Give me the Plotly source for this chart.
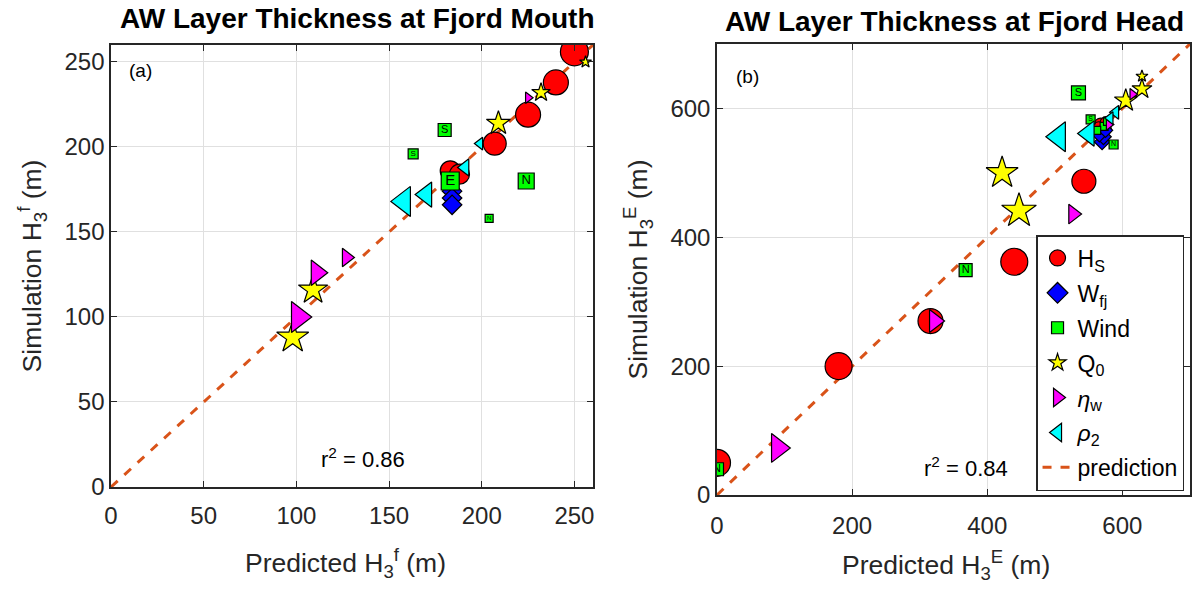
import plotly.graph_objects as go

# ---------------- Panel (a): Fjord mouth ----------------
a_hs_x = [183, 188, 207, 225, 240, 250]
a_hs_y = [186, 184, 202, 219, 238, 256]
a_wfj_x = [184, 184, 184]
a_wfj_y = [174, 170, 166]
a_wind_x = [180, 163, 183, 224, 204]
a_wind_y = [210, 196, 180, 180, 158]
a_wind_lbl = ["S", "S", "E", "N", "N"]
a_q0_x = [98, 109, 209, 232, 256]
a_q0_y = [88, 116, 214, 232, 250]
a_eta_x = [101, 111, 127, 225]
a_eta_y = [100, 126, 135, 229]
a_rho_x = [158, 170, 191, 199]
a_rho_y = [168, 172, 188, 202]
a_pred = [0, 260]
a_r2 = "0.86"

# ---------------- Panel (b): Fjord head ----------------
b_hs_x = [0, 180, 316, 440, 543, 568, 574, 576, 565, 571]
b_hs_y = [50, 200, 270, 362, 487, 575, 568, 578, 570, 562]
b_wfj_x = [570, 572, 566, 575]
b_wfj_y = [548, 556, 560, 566]
b_wind_x = [0, 368, 535, 553, 587, 573, 562, 578]
b_wind_y = [40, 349, 624, 583, 544, 572, 566, 580]
b_wind_lbl = ["N", "N", "S", "S", "N", "", "", ""]
b_q0_x = [422, 447, 605, 629, 629]
b_q0_y = [500, 441, 612, 630, 650]
b_eta_x = [90, 322, 527, 615, 580]
b_eta_y = [73, 270, 436, 622, 575]
b_rho_x = [506, 550, 590, 582]
b_rho_y = [556, 561, 594, 585]
b_pred = [0, 700]
b_r2 = "0.84"

# marker sizes (style)
a_hs_s = [20, 20, 23, 25, 25, 28]
a_wfj_s = [15, 15, 15]
a_wind_s = [13, 10, 18, 16, 8]
a_q0_s = [24, 22, 18, 14, 9]
a_eta_s = [27, 22, 16, 10]
a_rho_s = [26, 22, 15, 11]
b_hs_s = [27, 27, 25, 27, 24, 13, 13, 12, 12, 12]
b_wfj_s = [12, 12, 12, 11]
b_wind_s = [13, 13, 14, 9, 9, 8, 8, 8]
b_q0_s = [24, 26, 17, 15, 9]
b_eta_s = [25, 20, 17, 10, 10]
b_rho_s = [26, 22, 12, 11]

FONT = "Liberation Sans, Arial, Helvetica, sans-serif"
INK = "#262626"
ORANGE = "#D95319"
W, H = 1194, 589
LABEL_SIZE = 26.5

fig = go.Figure()


def add_panel(xa, ya, hs, wfj, wind, q0, eta, rho, pred):
    def sc(x, y, s, sym, col, lw=1.2):
        fig.add_trace(go.Scatter(
            x=x, y=y, mode="markers", xaxis=xa, yaxis=ya, showlegend=False,
            marker=dict(symbol=sym, size=s, color=col, opacity=1,
                        line=dict(color="black", width=lw)),
            hoverinfo="x+y"))
    fig.add_trace(go.Scatter(x=pred, y=pred, mode="lines", xaxis=xa, yaxis=ya,
                             showlegend=False,
                             line=dict(color=ORANGE, width=3, dash="dash")))
    sc(hs[0], hs[1], hs[2], "circle", "#FF0000")
    sc(wfj[0], wfj[1], wfj[2], "diamond", "#0000FF")
    fig.add_trace(go.Scatter(
        x=wind[0], y=wind[1], mode="markers+text", text=wind[3],
        textposition="middle center",
        textfont=dict(family=FONT, color="black",
                      size=[max(6, int(s * 0.85)) for s in wind[2]]),
        xaxis=xa, yaxis=ya, showlegend=False,
        marker=dict(symbol="square", size=wind[2], color="#00FF00", opacity=1,
                    line=dict(color="black", width=1.2))))
    sc(q0[0], q0[1], q0[2], "star", "#FFFF00")
    sc(eta[0], eta[1], eta[2], "triangle-right", "#FF00FF")
    sc(rho[0], rho[1], rho[2], "triangle-left", "#00FFFF")


add_panel("x", "y", (a_hs_x, a_hs_y, a_hs_s), (a_wfj_x, a_wfj_y, a_wfj_s),
          (a_wind_x, a_wind_y, a_wind_s, a_wind_lbl), (a_q0_x, a_q0_y, a_q0_s),
          (a_eta_x, a_eta_y, a_eta_s), (a_rho_x, a_rho_y, a_rho_s), a_pred)
add_panel("x2", "y2", (b_hs_x, b_hs_y, b_hs_s), (b_wfj_x, b_wfj_y, b_wfj_s),
          (b_wind_x, b_wind_y, b_wind_s, b_wind_lbl), (b_q0_x, b_q0_y, b_q0_s),
          (b_eta_x, b_eta_y, b_eta_s), (b_rho_x, b_rho_y, b_rho_s), b_pred)

# legend-only entries (panel b)
leg = [("H<sub>S</sub>", "circle", "#FF0000", 17),
       ("W<sub>fj</sub>", "diamond", "#0000FF", 16),
       ("Wind", "square", "#00FF00", 12),
       ("Q<sub>0</sub>", "star", "#FFFF00", 13),
       ("<i>η</i><sub>w</sub>", "triangle-right", "#FF00FF", 17),
       ("<i>ρ</i><sub>2</sub>", "triangle-left", "#00FFFF", 17)]
for i, (name, sym, col, s) in enumerate(leg):
    fig.add_trace(go.Scatter(x=[None], y=[None], mode="markers", name=name,
                             xaxis="x2", yaxis="y2", legendgroup=f"g{i}",
                             marker=dict(symbol=sym, size=s, color=col, opacity=1,
                                         line=dict(color="black", width=1.2))))
fig.add_trace(go.Scatter(x=[None], y=[None], mode="lines", name="prediction",
                         xaxis="x2", yaxis="y2", legendgroup="g9",
                         line=dict(color=ORANGE, width=3, dash="dash")))

ax_common = dict(showgrid=True, gridcolor="#E0E0E0", gridwidth=1.3, automargin=False,
                 zeroline=False, showline=True, linecolor=INK, linewidth=1.5,
                 mirror="ticks", ticks="inside", ticklen=6, tickcolor=INK,
                 tickfont=dict(family=FONT, size=24, color=INK),
                 title_font=dict(family=FONT, size=LABEL_SIZE, color=INK))


def px_y(p):
    return 1 - p / H


fig.update_layout(
    width=W, height=H, margin=dict(l=0, r=0, t=0, b=0, autoexpand=False),
    paper_bgcolor="white", plot_bgcolor="white",
    font=dict(family=FONT, color=INK),
    xaxis=dict(domain=[0.0930, 0.4966], range=[0, 260], tickvals=[0, 50, 100, 150, 200, 250],
               anchor="y", ticklabelstandoff=6, **ax_common),
    yaxis=dict(domain=[0.1732, 0.9236], range=[0, 260], tickvals=[0, 50, 100, 150, 200, 250],
               anchor="x", title=dict(text="Simulation H<sub>3</sub><sup>f</sup> (m)"),
               **ax_common),
    xaxis2=dict(domain=[0.6005, 0.9966], range=[0, 700], tickvals=[0, 200, 400, 600],
                anchor="y2", ticklabelstandoff=8, **ax_common),
    yaxis2=dict(domain=[0.1596, 0.9253], range=[0, 700], tickvals=[0, 200, 400, 600],
                anchor="x2", title=dict(text="Simulation H<sub>3</sub><sup>E</sup> (m)"),
                **ax_common),
    legend=dict(x=0.8677, y=0.601, xanchor="left", yanchor="top",
                bgcolor="white", bordercolor=INK, borderwidth=1.5,
                font=dict(family=FONT, size=23, color="black"),
                itemsizing="trace", traceorder="grouped", tracegroupgap=2),
    annotations=[
        dict(text="<b>AW Layer Thickness at Fjord Mouth</b>", x=0.2995, y=px_y(19),
             xref="paper", yref="paper", xanchor="center", yanchor="middle", showarrow=False,
             font=dict(family=FONT, size=28, color="black")),
        dict(text="<b>AW Layer Thickness at Fjord Head</b>", x=0.799, y=px_y(21),
             xref="paper", yref="paper", xanchor="center", yanchor="middle", showarrow=False,
             font=dict(family=FONT, size=28, color="black")),
        dict(text="Predicted H<sub>3</sub><sup>f</sup> (m)", x=0.289, y=px_y(542),
             xref="paper", yref="paper", xanchor="center", yanchor="top", showarrow=False,
             font=dict(family=FONT, size=LABEL_SIZE, color=INK)),
        dict(text="Predicted H<sub>3</sub><sup>E</sup> (m)", x=0.7927, y=px_y(544),
             xref="paper", yref="paper", xanchor="center", yanchor="top", showarrow=False,
             font=dict(family=FONT, size=LABEL_SIZE, color=INK)),
        dict(text="(a)", x=16, y=245, xref="x", yref="y", showarrow=False,
             font=dict(family=FONT, size=19, color="black")),
        dict(text="(b)", x=45, y=650, xref="x2", yref="y2", showarrow=False,
             font=dict(family=FONT, size=19, color="black")),
        dict(text="r<sup>2</sup> = " + a_r2, x=136, y=17, xref="x", yref="y", showarrow=False,
             font=dict(family=FONT, size=22, color="black")),
        dict(text="r<sup>2</sup> = " + b_r2, x=369, y=43, xref="x2", yref="y2", showarrow=False,
             font=dict(family=FONT, size=22, color="black")),
    ],
)

fig.write_html("out.html", config={"displayModeBar": False},
               post_script="document.body.style.margin='0px';"
                           "document.body.style.overflow='hidden';")
